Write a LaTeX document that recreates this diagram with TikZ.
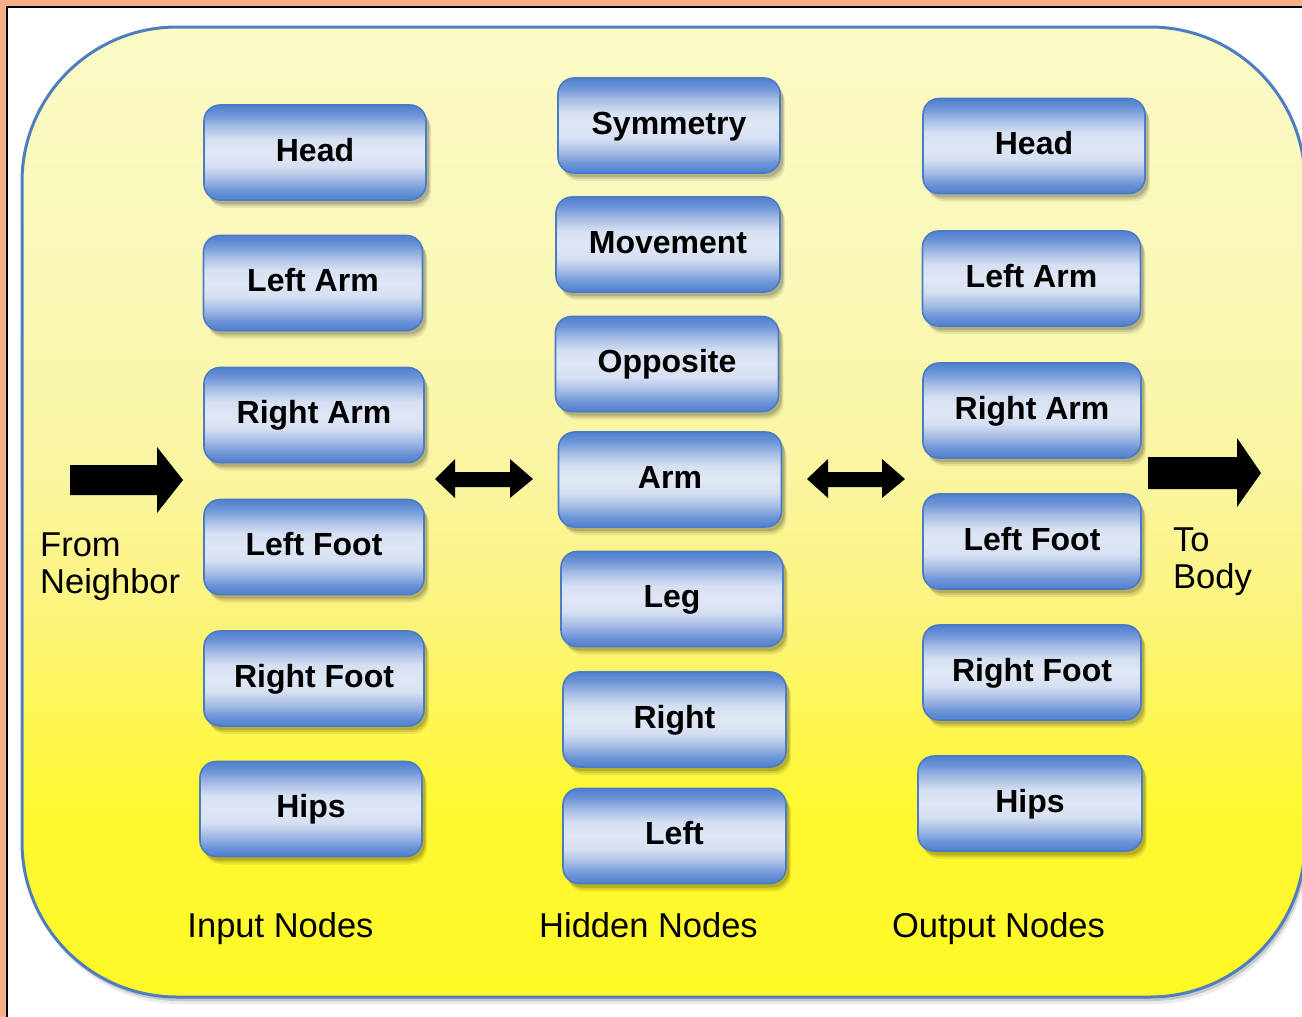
\documentclass[tikz,border=0pt]{standalone}
\usepackage{fontspec}
\setmainfont{Liberation Sans}
\usetikzlibrary{shadows}
\definecolor{frameor}{HTML}{F9B08A}
\definecolor{bgA}{HTML}{FFF826}
\definecolor{bgB}{HTML}{FFF832}
\definecolor{bgC}{HTML}{FCF47E}
\definecolor{bgD}{HTML}{FAF5A0}
\definecolor{bgE}{HTML}{FAF8B8}
\definecolor{bgF}{HTML}{FBFAC4}
\definecolor{bgline}{HTML}{4F7EC0}
\definecolor{bxA}{HTML}{5180CE}
\definecolor{bxB}{HTML}{6C94D7}
\definecolor{bxC}{HTML}{A4BBE4}
\definecolor{bxD}{HTML}{D6E0F2}
\definecolor{bxE}{HTML}{DFE7F5}
\definecolor{bxline}{HTML}{4B7BC6}
\pgfdeclareverticalshading{yellowbg}{100bp}{color(0bp)=(bgA); color(25bp)=(bgA); color(35bp)=(bgB); color(45bp)=(bgC); color(52bp)=(bgD); color(62bp)=(bgE); color(75bp)=(bgF); color(100bp)=(bgF)}
\pgfdeclareverticalshading{boxshade}{100bp}{color(0bp)=(bxA); color(25bp)=(bxA); color(30bp)=(bxB); color(36bp)=(bxC); color(43bp)=(bxD); color(50bp)=(bxE); color(57bp)=(bxD); color(64bp)=(bxC); color(70bp)=(bxB); color(75bp)=(bxA); color(100bp)=(bxA)}
\tikzset{
  softshadow/.style={
    drop shadow={shadow xshift=5pt, shadow yshift=-8pt, opacity=0.07, fill=black},
    drop shadow={shadow xshift=4pt, shadow yshift=-6pt, opacity=0.1, fill=black},
    drop shadow={shadow xshift=3pt, shadow yshift=-4pt, opacity=0.14, fill=black}},
  nbox/.style={softshadow, shade, shading=boxshade, draw=bxline, line width=1.6pt, rounded corners=16pt,
    minimum width=222pt, minimum height=95pt, inner sep=0pt,
    font=\fontsize{32}{36}\selectfont\bfseries, text=black, text height=23pt, text depth=6pt},
  lbl/.style={inner sep=0pt, font=\fontsize{34.5}{38}\selectfont, text=black},
  blockarrow/.style={fill=black}
}
\begin{document}
\begin{tikzpicture}[x=1pt,y=-1pt]
\useasboundingbox (0,0) rectangle (1302,1017);
% page frame
\fill[white] (0,0) rectangle (1302,1017);
\fill[frameor] (0,0) rectangle (1302,6.5);
\fill[frameor] (0,0) rectangle (6.5,1017);
\draw[black, line width=1.3pt] (7,1017) -- (7,7) -- (1302,7);
% big rounded background
\path[shade, shading=yellowbg, draw=bgline, line width=3pt, rounded corners=155pt,
  drop shadow={shadow xshift=3pt, shadow yshift=-7pt, opacity=0.08, fill=black},
  drop shadow={shadow xshift=2pt, shadow yshift=-4pt, opacity=0.15, fill=black}]
  (22,27) rectangle (1305,997);
% input nodes
\node[nbox] (iHead)  at (315,152.5) {Head};
\node[nbox, minimum width=219pt] (iLArm)  at (313,283) {Left Arm};
\node[nbox, minimum width=220pt] (iRArm)  at (314,415) {Right Arm};
\node[nbox, minimum width=220pt] (iLFoot) at (314,547) {Left Foot};
\node[nbox, minimum width=220pt] (iRFoot) at (314,678.5) {Right Foot};
\node[nbox] (iHips)  at (311,809) {Hips};
% hidden nodes
\node[nbox] (hSym)  at (669,125.5) {Symmetry};
\node[nbox, minimum width=224pt] (hMov)  at (668,244.5) {Movement};
\node[nbox, minimum width=223pt] (hOpp)  at (667,364) {Opposite};
\node[nbox, minimum width=223pt] (hArm)  at (670,479.5) {Arm};
\node[nbox] (hLeg)  at (672,599) {Leg};
\node[nbox, minimum width=223pt] (hRight) at (674.5,719.5) {Right};
\node[nbox, minimum width=223pt] (hLeft)  at (674.5,836) {Left};
% output nodes
\node[nbox] (oHead)  at (1034,146) {Head};
\node[nbox, minimum width=218pt] (oLArm)  at (1031.5,278.5) {Left Arm};
\node[nbox, minimum width=218pt] (oRArm)  at (1032,410.5) {Right Arm};
\node[nbox, minimum width=218pt] (oLFoot) at (1032,541.5) {Left Foot};
\node[nbox, minimum width=218pt] (oRFoot) at (1032,672.5) {Right Foot};
\node[nbox, minimum width=224pt] (oHips)  at (1030,803.5) {Hips};
% block arrows
\fill[blockarrow] (70,465) -- (157,465) -- (157,447) -- (183,480) -- (157,513) -- (157,495) -- (70,495) -- cycle;
\fill[blockarrow] (1148,457) -- (1237,457) -- (1237,438) -- (1261,473) -- (1237,507) -- (1237,489) -- (1148,489) -- cycle;
\fill[blockarrow] (435,479) -- (455,459) -- (455,472) -- (510,472) -- (510,459) -- (533,479) -- (510,498) -- (510,487) -- (455,487) -- (455,498) -- cycle;
\fill[blockarrow] (807,479) -- (828,459) -- (828,472) -- (882,472) -- (882,459) -- (905,479) -- (882,498) -- (882,487) -- (828,487) -- (828,498) -- cycle;
% side labels
\node[lbl, anchor=base west] (from1) at (40,556) {From};
\node[lbl, anchor=base west] (from2) at (40,593) {Neighbor};
\node[lbl, anchor=base west] (to1) at (1173,551) {To};
\node[lbl, anchor=base west] (to2) at (1173,588) {Body};
% column labels
\node[lbl, anchor=base] (inlbl)  at (280.5,937) {Input Nodes};
\node[lbl, anchor=base] (hidlbl) at (648.5,937) {Hidden Nodes};
\node[lbl, anchor=base] (outlbl) at (998.5,937) {Output Nodes};
\end{tikzpicture}
\end{document}
